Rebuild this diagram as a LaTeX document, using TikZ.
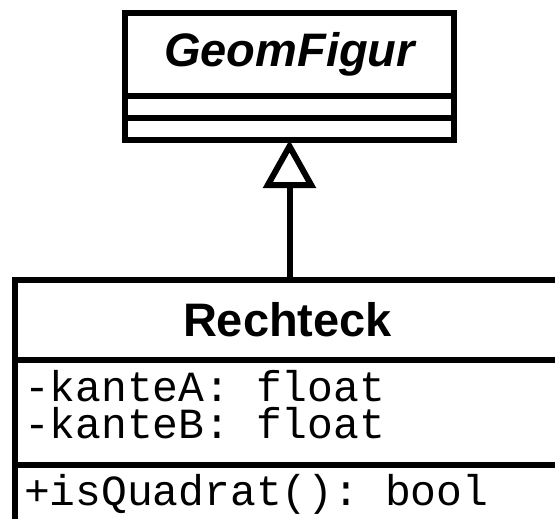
\documentclass[tikz,border=0pt]{standalone}
\usepackage{fontspec}
\setmainfont{Liberation Sans}
\setmonofont{Liberation Mono}
\usetikzlibrary{arrows.meta}
\begin{document}
\begin{tikzpicture}[x=1pt,y=-1pt,
  line width=6pt,
  compart/.style={draw, rectangle, anchor=north west, inner sep=0pt, outer sep=0pt},
  classname/.style={font=\fontsize{47}{47}\selectfont\bfseries},
  member/.style={font=\ttfamily\fontsize{43}{43}\selectfont, anchor=base west, inner sep=0pt},
  inherit/.style={-{Triangle[open, length=48pt, width=52pt]}, line join=miter},
]
\useasboundingbox (0,0) rectangle (555,519);
\clip (0,0) rectangle (555,519);

% abstract class GeomFigur
\node[compart, minimum width=329pt, minimum height=83pt, classname, font=\fontsize{47}{47}\selectfont\bfseries\itshape] (gname) at (125,13) {GeomFigur};
\node[compart, minimum width=329pt, minimum height=22pt] (gattr) at (gname.south west) {};
\node[compart, minimum width=329pt, minimum height=22pt] (gops) at (gattr.south west) {};

% class Rechteck
\node[compart, minimum width=545pt, minimum height=80pt, classname] (rname) at (15,280) {Rechteck};
\node[compart, minimum width=545pt, minimum height=105pt] (rattr) at (rname.south west) {};
\node[compart, minimum width=545pt, minimum height=80pt] (rops) at (rattr.south west) {};

\node[member] (attrA) at (21,401) {-kanteA: float};
\node[member] (attrB) at (21,438) {-kanteB: float};
\node[member] (opQ) at (21,505) {+isQuadrat(): bool};

% generalisation
\draw[inherit] (rname.north -| gops.south) -- (gops.south);
\end{tikzpicture}
\end{document}
